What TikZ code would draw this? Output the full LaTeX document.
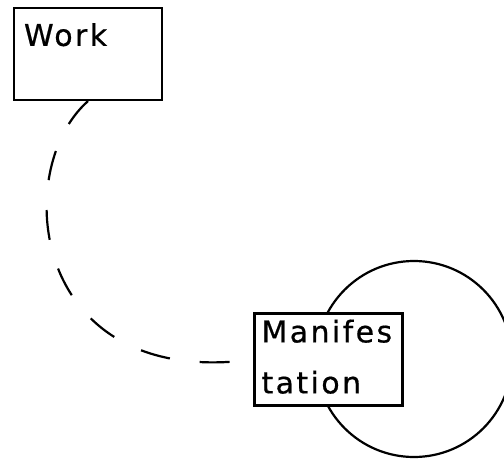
\documentclass[tikz,border=0pt]{standalone}
\usepackage{fontspec}
\setmainfont{DejaVu Sans}[LetterSpace=8,FakeBold=0.6]
\usepackage{tikz}
\usetikzlibrary{calc}

\begin{document}
\begin{tikzpicture}[x=1pt,y=-1pt,line width=2.2pt]
\tikzset{entity/.style={draw,rectangle,fill=white,minimum width=148pt,minimum height=92pt,inner sep=0pt},
 entitytext/.style={font=\fontsize{30}{51}\selectfont,inner sep=0pt,anchor=base west,align=left}}
\useasboundingbox (0,0) rectangle (504,461);

\draw node [draw,circle,minimum size=196pt,inner sep=0pt](cycle) at (414,359){};

\draw node [entity](work) at (88,54){};
\draw node [entitytext](worktext) at ($ (work.north west)+(10,39)$){Work};

\draw node [entity](manif) at (328.5,359.5){};
\draw node [entitytext](maniftext) at ($ (manif.north west)+(7,81)$){Manifes\\tation};

\draw[dash pattern=on 30pt off 30pt] (work.south) .. controls (10,170) and (30,390) .. (manif.west);

\end{tikzpicture}
\end{document}
